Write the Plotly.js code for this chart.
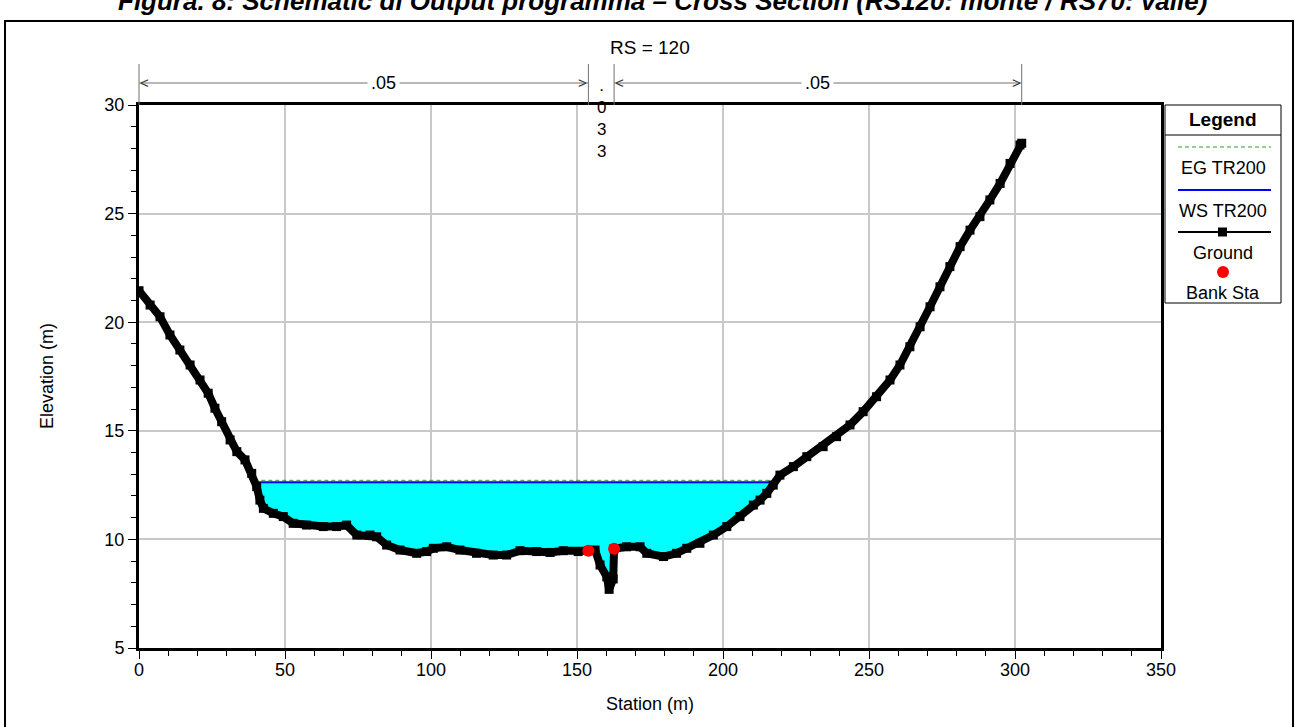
<!DOCTYPE html>
<html><head><meta charset="utf-8">
<script src="https://cdn.plot.ly/plotly-3.0.1.min.js"></script>
<style>html,body{margin:0;padding:0;background:#fff;} #chart{width:1299px;height:727px;}</style>
</head><body><div id="chart"></div>
<script>
// ---------------- data ----------------
const figureTitle = 'Figura. 8: Schematic di Output programma – Cross Section (RS120: monte / RS70: valle)';
const riverStation = 'RS = 120';
const xAxisTitle = 'Station (m)';
const yAxisTitle = 'Elevation (m)';
const xTickValues = [0, 50, 100, 150, 200, 250, 300, 350];
const yTickValues = [5, 10, 15, 20, 25, 30];

const groundStation = [0, 3.8, 7.2, 10.6, 14.0, 17.5, 20.9, 23.7, 26.0, 28.3, 31.2, 33.5, 36.3, 38.6, 40.3, 41.4, 42.6,
  46.0, 49.4, 52.8, 57.4, 63.1, 67.7, 71.1, 74.6, 79.1, 81.4, 84.8, 89.4, 95.1, 98.5, 100.8, 105.4, 109.9,
  115.6, 121.3, 125.9, 130.5, 136.2, 140.8, 145.3, 150.4, 153.9, 156.2, 157.9, 160.2, 161.0, 162.4, 162.7,
  167.0, 171.6, 173.9, 179.6, 184.1, 187.6, 192.1, 196.7, 201.3, 205.8, 210.4, 212.7, 215.0, 217.2, 219.5,
  224.1, 228.7, 234.3, 238.9, 243.5, 248.0, 252.6, 257.2, 260.6, 264.0, 267.5, 270.9, 274.3, 277.7, 281.2,
  284.6, 288.0, 291.4, 294.9, 298.3, 301.7, 302.3];
const groundElevation = [21.45, 20.79, 20.25, 19.41, 18.72, 18.03, 17.34, 16.73, 16.04, 15.42, 14.58, 14.04, 13.66, 13.04, 12.43, 11.81, 11.43,
  11.20, 11.05, 10.74, 10.66, 10.59, 10.59, 10.66, 10.20, 10.20, 10.12, 9.74, 9.51, 9.36, 9.44, 9.59, 9.66, 9.51,
  9.36, 9.28, 9.28, 9.48, 9.44, 9.40, 9.48, 9.44, 9.48, 9.51, 8.82, 8.28, 7.70, 8.18, 9.57,
  9.66, 9.66, 9.36, 9.21, 9.36, 9.59, 9.82, 10.20, 10.59, 11.05, 11.58, 11.81, 12.12, 12.50, 12.96,
  13.35, 13.81, 14.27, 14.73, 15.27, 15.88, 16.57, 17.34, 18.03, 18.87, 19.79, 20.71, 21.63, 22.56, 23.48,
  24.24, 24.86, 25.63, 26.39, 27.31, 28.16, 28.24];

const bankStation = [153.9, 162.7];
const bankElevation = [9.48, 9.57];
const wsElevation = 12.63;   // WS TR200
const egElevation = 12.72;   // EG TR200

const manningBreaks = [0, 153.9, 162.7, 302.3];
const manningValues = ['.05', '.033', '.05'];

const legendLabels = ['EG TR200', 'WS TR200', 'Ground', 'Bank Sta'];
const legendHeader = 'Legend';

// ---------------- helpers ----------------
const xRange = [0, 350], yRange = [5, 30];
const W = 1299, H = 727;
const M = {l: 139, r: 138, t: 105, b: 79};
const plotW = W - M.l - M.r, plotH = H - M.t - M.b;
const PX = p => (p - M.l) / plotW;          // page pixel -> paper x
const PY = p => (H - M.b - p) / plotH;      // page pixel -> paper y
const S2P = s => (s - xRange[0]) / (xRange[1] - xRange[0]); // station -> paper x
const FONT = 'Liberation Sans, Arial, sans-serif';

function crossing(level) {
  let L = null, R = null, li = 0, ri = 0;
  for (let i = 0; i < groundStation.length - 1; i++) {
    const a = groundElevation[i] - level, b = groundElevation[i + 1] - level;
    const x0 = groundStation[i], x1 = groundStation[i + 1];
    if (L === null && a >= 0 && b < 0) { L = x0 + (x1 - x0) * a / (a - b); li = i + 1; }
    if (L !== null && a < 0 && b >= 0) { R = x0 + (x1 - x0) * (-a) / (b - a); ri = i; }
  }
  return {L, R, li, ri};
}

const ws = crossing(wsElevation);
const eg = crossing(egElevation);
const waterX = [ws.L].concat(groundStation.slice(ws.li, ws.ri + 1), [ws.R]);
const waterY = [wsElevation].concat(groundElevation.slice(ws.li, ws.ri + 1), [wsElevation]);

const traces = [
  {x: waterX, y: waterY, type: 'scatter', mode: 'lines', fill: 'toself', fillcolor: '#00ffff',
   line: {width: 0, color: '#00ffff'}, hoverinfo: 'skip', showlegend: false},
  {x: [eg.L, eg.R], y: [egElevation, egElevation], type: 'scatter', mode: 'lines',
   line: {color: '#2e9a2e', width: 1, dash: '4px,3px'}, name: legendLabels[0], showlegend: false},
  {x: [ws.L, ws.R], y: [wsElevation, wsElevation], type: 'scatter', mode: 'lines',
   line: {color: '#0000ff', width: 2}, name: legendLabels[1], showlegend: false},
  {x: groundStation, y: groundElevation, type: 'scatter', mode: 'lines+markers',
   line: {color: '#000', width: 8}, marker: {symbol: 'square', size: 9, color: '#000'},
   name: legendLabels[2], showlegend: false},
  {x: bankStation, y: bankElevation, type: 'scatter', mode: 'markers',
   marker: {symbol: 'circle', size: 12, color: '#ff0000'}, name: legendLabels[3], showlegend: false}
];

// ---------------- annotations & shapes ----------------
const annotations = [];
const shapes = [];

// figure caption (cut at top like the reference)
annotations.push({text: '<i>' + figureTitle + '</i>', xref: 'paper', yref: 'paper',
  x: PX(662), y: PY(1), xanchor: 'center', yanchor: 'middle', showarrow: false,
  font: {family: FONT, size: 26, color: '#000', weight: 'bold'}});
// outer frame
shapes.push({type: 'rect', xref: 'paper', yref: 'paper', x0: PX(5), x1: PX(1293), y0: PY(740), y1: PY(21),
  line: {color: '#000', width: 2}, fillcolor: 'rgba(0,0,0,0)', layer: 'below'});
// RS label
annotations.push({text: riverStation, xref: 'paper', yref: 'paper', x: 0.5, y: PY(48),
  xanchor: 'center', yanchor: 'middle', showarrow: false, font: {family: FONT, size: 19, color: '#000'}});
// axis titles
annotations.push({text: xAxisTitle, xref: 'paper', yref: 'paper', x: 0.5, y: PY(704),
  xanchor: 'center', yanchor: 'middle', showarrow: false, font: {family: FONT, size: 18, color: '#000'}});
annotations.push({text: yAxisTitle, xref: 'paper', yref: 'paper', x: PX(47), y: PY(376), textangle: -90,
  xanchor: 'center', yanchor: 'middle', showarrow: false, font: {family: FONT, size: 18, color: '#000'}});

// Manning's n dimension bar above the plot
const dimY = PY(83);
const grey = '#707070';
for (let i = 0; i < manningBreaks.length; i++) {
  shapes.push({type: 'line', xref: 'paper', yref: 'paper', x0: S2P(manningBreaks[i]), x1: S2P(manningBreaks[i]),
    y0: PY(64), y1: PY(105), line: {color: grey, width: 1}});
}
for (let i = 0; i < manningValues.length; i++) {
  const a = manningBreaks[i], b = manningBreaks[i + 1], mid = (a + b) / 2;
  const wide = (b - a) > 20;
  if (wide) {
    shapes.push({type: 'line', xref: 'paper', yref: 'paper', x0: S2P(a), x1: S2P(b), y0: dimY, y1: dimY,
      line: {color: grey, width: 1}});
    annotations.push({text: '<', xref: 'paper', yref: 'paper', x: S2P(a), y: dimY, xanchor: 'left', yanchor: 'middle',
      showarrow: false, xshift: -1, yshift: 1, font: {family: FONT, size: 15, color: '#333'}});
    annotations.push({text: '>', xref: 'paper', yref: 'paper', x: S2P(b), y: dimY, xanchor: 'right', yanchor: 'middle',
      showarrow: false, xshift: 1, yshift: 1, font: {family: FONT, size: 15, color: '#333'}});
    annotations.push({text: manningValues[i], xref: 'paper', yref: 'paper', x: S2P(mid), y: dimY,
      xanchor: 'center', yanchor: 'middle', showarrow: false, bgcolor: '#fff', borderpad: 3,
      xshift: i === 0 ? 20 : 0,
      font: {family: FONT, size: 18, color: '#000'}});
  } else {
    annotations.push({text: manningValues[i].split('').join('<br>'), xref: 'paper', yref: 'paper', x: S2P(mid), y: PY(75),
      xanchor: 'center', yanchor: 'top', showarrow: false, borderpad: 0,
      font: {family: FONT, size: 17, color: '#000'}});
  }
}

// Legend box (HEC-RAS style)
const LX0 = 1165, LX1 = 1281, LC = 1223;
shapes.push({type: 'rect', xref: 'paper', yref: 'paper', x0: PX(LX0), x1: PX(LX1), y0: PY(303), y1: PY(105),
  line: {color: '#000', width: 1}, fillcolor: '#fff'});
shapes.push({type: 'line', xref: 'paper', yref: 'paper', x0: PX(LX0), x1: PX(LX1), y0: PY(135), y1: PY(135),
  line: {color: '#000', width: 1}});
annotations.push({text: '<b>' + legendHeader + '</b>', xref: 'paper', yref: 'paper', x: PX(LC), y: PY(119),
  xanchor: 'center', yanchor: 'middle', showarrow: false, font: {family: FONT, size: 19, color: '#000'}});
const symY = [147, 190, 232, 272], labY = [168, 211, 253, 293];
shapes.push({type: 'line', xref: 'paper', yref: 'paper', x0: PX(1178), x1: PX(1271), y0: PY(symY[0]), y1: PY(symY[0]),
  line: {color: '#2e9a2e', width: 1, dash: '4px,3px'}});
shapes.push({type: 'line', xref: 'paper', yref: 'paper', x0: PX(1178), x1: PX(1271), y0: PY(symY[1]), y1: PY(symY[1]),
  line: {color: '#0000ff', width: 2}});
shapes.push({type: 'line', xref: 'paper', yref: 'paper', x0: PX(1178), x1: PX(1271), y0: PY(symY[2]), y1: PY(symY[2]),
  line: {color: '#000', width: 2}});
shapes.push({type: 'rect', xref: 'paper', yref: 'paper', x0: PX(LC - 5), x1: PX(LC + 4), y0: PY(symY[2] + 4.5), y1: PY(symY[2] - 4.5),
  line: {width: 0}, fillcolor: '#000'});
shapes.push({type: 'circle', xref: 'paper', yref: 'paper', x0: PX(LC - 6), x1: PX(LC + 6), y0: PY(symY[3] + 6), y1: PY(symY[3] - 6),
  line: {width: 0}, fillcolor: '#ff0000'});
legendLabels.forEach((t, i) => {
  annotations.push({text: t, xref: 'paper', yref: 'paper', x: PX(LC), y: PY(labY[i]),
    xanchor: 'center', yanchor: 'middle', showarrow: false, font: {family: FONT, size: 18, color: '#000'}});
});

const axisCommon = {
  showline: true, mirror: true, linecolor: '#000', linewidth: 3,
  showgrid: true, gridcolor: '#c8c8c8', gridwidth: 2, zeroline: false,
  ticks: 'outside', ticklen: 8, tickwidth: 1, tickcolor: '#000',
  tickfont: {family: FONT, size: 18, color: '#000'}, fixedrange: true
};

const layout = {
  width: W, height: H,
  margin: M,
  paper_bgcolor: '#fff', plot_bgcolor: '#fff',
  showlegend: false,
  xaxis: Object.assign({}, axisCommon, {range: xRange, tickvals: xTickValues, ticktext: xTickValues.map(String),
    ticklabelstandoff: -5,
    minor: {dtick: 10, tick0: 0, ticks: 'outside', ticklen: 5, tickcolor: '#000', showgrid: false}}),
  yaxis: Object.assign({}, axisCommon, {range: yRange, tickvals: yTickValues, ticktext: yTickValues.map(String),
    minor: {dtick: 1, tick0: 0, ticks: 'outside', ticklen: 5, tickcolor: '#000', showgrid: false}}),
  annotations: annotations,
  shapes: shapes
};

Plotly.newPlot('chart', traces, layout, {displayModeBar: false, staticPlot: true});
</script>
</body></html>
